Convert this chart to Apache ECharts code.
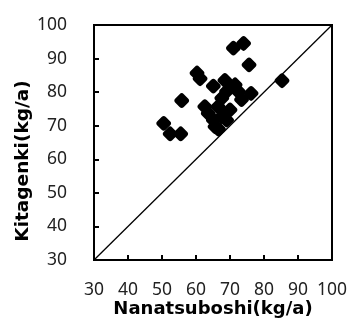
<!DOCTYPE html>
<html>
<head>
<meta charset="utf-8">
<script src="https://cdn.jsdelivr.net/npm/echarts@6/dist/echarts.min.js"></script>
<style>
  html, body { margin: 0; padding: 0; background: #fff; }
  #chart { width: 349px; height: 320px; }
</style>
</head>
<body>
<div id="chart"></div>
<script>
// Nanatsuboshi (x) vs Kitagenki (y), kg/a
const nanatsuboshi = [71, 74, 75.6, 60.3, 61.2, 55.8, 50.5, 52.4, 55.5, 85.3, 76.2,
  65.1, 68.5, 71.5, 72.4, 73.4, 69, 67.6, 62.6, 63.6, 66.5, 70, 65.1, 67.6, 65.6, 66.6, 69];
const kitagenki = [93.1, 94.5, 88.1, 85.7, 84, 77.5, 70.7, 67.6, 67.6, 83.4, 79.6,
  81.8, 83.5, 82.2, 80.2, 77.8, 80.2, 78.2, 75.7, 73.7, 75.7, 74.7, 71.7, 72.7, 69.7, 69, 71.7];
const equalLine = [30, 100];

const points = nanatsuboshi.map((x, i) => [x, kitagenki[i]]);

const chart = echarts.init(document.getElementById('chart'));

const labelStyle = { color: '#222', fontSize: 17.5, fontFamily: 'Noto Sans' };
const titleStyle = { color: '#000', fontSize: 18, fontWeight: 'bold', fontFamily: 'DejaVu Sans' };

const axisCommon = {
  type: 'value',
  min: 30,
  max: 100,
  interval: 10,
  axisLine: { show: true, lineStyle: { color: '#000', width: 2 } },
  axisTick: { show: true, inside: true, length: 5, lineStyle: { color: '#000', width: 2 } },
  splitLine: { show: false }
};

chart.setOption({
  animation: false,
  grid: {
    left: 94, right: 17, top: 25, bottom: 60,
    outerBoundsMode: 'none',
    show: true, borderColor: '#000', borderWidth: 2
  },
  xAxis: Object.assign({}, axisCommon, {
    name: 'Nanatsuboshi(kg/a)',
    nameLocation: 'middle',
    nameGap: 40,
    nameMoveOverlap: false,
    nameTextStyle: titleStyle,
    axisLabel: Object.assign({ margin: 21 }, labelStyle)
  }),
  yAxis: Object.assign({}, axisCommon, {
    axisLabel: Object.assign({ margin: 27 }, labelStyle)
  }),
  graphic: [{
    type: 'text',
    x: 23, y: 161,
    rotation: Math.PI / 2,
    style: { text: 'Kitagenki(kg/a)', align: 'center', verticalAlign: 'middle', fill: '#000',
      font: 'bold 18.5px "DejaVu Sans"' }
  }],
  series: [
    {
      type: 'line',
      data: equalLine.map(v => [v, v]),
      showSymbol: false,
      lineStyle: { color: '#000', width: 1.3 },
      z: 1
    },
    {
      type: 'scatter',
      data: points,
      symbol: 'roundRect',
      symbolRotate: 45,
      symbolSize: 12,
      itemStyle: { color: '#000', opacity: 1 },
      z: 2
    }
  ]
});
</script>
</body>
</html>
